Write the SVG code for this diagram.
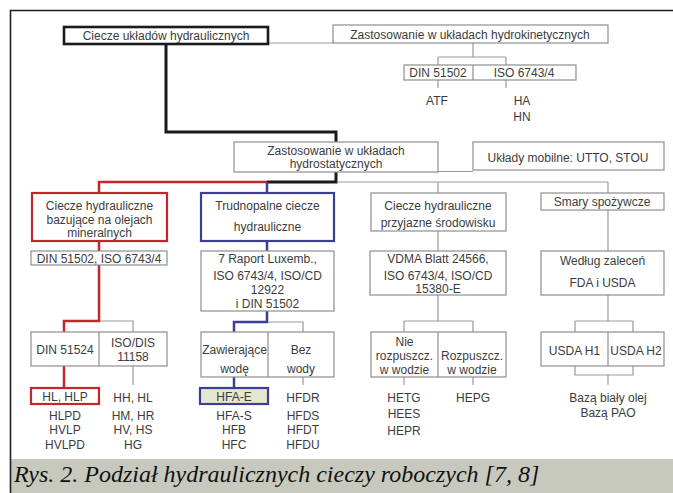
<svg xmlns="http://www.w3.org/2000/svg" width="673" height="493" viewBox="0 0 673 493">
<style>
.b{fill:#fff;stroke:#8e8e8e;stroke-width:1.2}
.t{font-family:"Liberation Sans",Arial,sans-serif;font-size:12px;fill:#3c3c3c;text-anchor:middle}
.c{fill:none;stroke:#999;stroke-width:1.2}
.r{fill:none;stroke:#c1272d;stroke-width:2.5}
.u{fill:none;stroke:#3c3f94;stroke-width:2.5}
.k{fill:none;stroke:#1a1a1a;stroke-width:3}
</style>
<rect x="0" y="0" width="673" height="493" fill="#fff"/>
<rect x="10" y="459" width="663" height="34" fill="#c8c9be"/>
<path d="M10.5 493 V10.5 H673" fill="none" stroke="#1e1e1e" stroke-width="1.6"/>
<text x="14" y="482" font-family="'Liberation Serif','Times New Roman',serif" font-style="italic" font-size="24" fill="#111">Rys. 2. Podział hydraulicznych cieczy roboczych [7, 8]</text>

<g id="connectors">
<path class="c" d="M268 43 H333"/>
<path class="c" d="M473 43 V57 M438 57 H506 M438 57 V65 M506 57 V65"/>
<path class="c" d="M438 80 V88 M506 80 V88"/>
<path class="k" d="M166 44 V132 H336 V142"/>
<path class="k" d="M336 172 V182 H267"/>
<path class="r" d="M267 182 H99 V193"/>
<path class="u" d="M267 182 V193"/>
<path class="c" d="M337 182 H608 M438 182 V193 M608 182 V193"/>
<path class="c" d="M438 171.5 H473"/>
<path class="r" d="M99 241 V251"/>
<path class="u" d="M267 241 V251"/>
<path class="c" d="M438 231 V251 M608 210 V251"/>
<path class="c" d="M99 321 H133 V332"/>
<path class="r" d="M99 265 V321 H64 V332"/>
<path class="c" d="M267 322 H303 V332"/>
<path class="u" d="M267 311 V322 H234 V332"/>
<path class="c" d="M438 295 V321 M404 321 H473 M404 321 V332 M473 321 V332"/>
<path class="c" d="M608 295 V321 M575 321 H633 M575 321 V332 M633 321 V332"/>
<path class="r" d="M64 366 V388"/>
<path class="c" d="M133 366 V385"/>
<path class="u" d="M234 377 V388"/>
<path class="c" d="M303 377 V385"/>
<path class="c" d="M404 377 V385 M473 377 V385"/>
<path class="c" d="M575 366 V375 H633 V366 M608 375 V385"/>
</g>

<g id="n-ciecze">
<rect x="64" y="27" width="204" height="17" fill="#fff" stroke="#1a1a1a" stroke-width="2.6"/>
<text class="t" x="166" y="40">Ciecze układów hydraulicznych</text>
</g>
<g id="n-hydrokin">
<rect class="b" x="333" y="25" width="275" height="18"/>
<text class="t" x="470" y="38.5">Zastosowanie w układach hydrokinetycznych</text>
</g>
<g id="n-din51502-top">
<rect class="b" x="404" y="65" width="172" height="15"/>
<line x1="473" y1="65" x2="473" y2="80" stroke="#8e8e8e" stroke-width="1.2"/>
<text class="t" x="438" y="77">DIN 51502</text>
<text class="t" x="524" y="77">ISO 6743/4</text>
</g>
<g id="n-atf"><text class="t" x="437" y="104.5">ATF</text></g>
<g id="n-ha"><text class="t" x="522" y="104.5">HA</text><text class="t" x="522" y="120.5">HN</text></g>

<g id="n-hydrostat">
<rect class="b" x="234" y="142" width="204" height="30"/>
<text class="t" x="336" y="154.5">Zastosowanie w układach</text>
<text class="t" x="336" y="168">hydrostatycznych</text>
</g>
<g id="n-mobile">
<rect class="b" x="473" y="142" width="191" height="28"/>
<text class="t" x="568" y="161.5">Układy mobilne: UTTO, STOU</text>
</g>

<g id="n-mineral">
<rect x="32" y="193" width="135" height="48" fill="#fff" stroke="#c1272d" stroke-width="2.2"/>
<text class="t" x="99.5" y="209.5">Ciecze hydrauliczne</text>
<text class="t" x="99.5" y="223.5">bazujące na olejach</text>
<text class="t" x="99.5" y="236.5">mineralnych</text>
</g>
<g id="n-trudno">
<rect x="201" y="193" width="133" height="48" fill="#fff" stroke="#3c3f94" stroke-width="2.2"/>
<text class="t" x="267.5" y="209.5">Trudnopalne ciecze</text>
<text class="t" x="267.5" y="231">hydrauliczne</text>
</g>
<g id="n-przyjazne">
<rect class="b" x="371" y="193" width="135" height="38"/>
<text class="t" x="438" y="209.5">Ciecze hydrauliczne</text>
<text class="t" x="438" y="227">przyjazne środowisku</text>
</g>
<g id="n-smary">
<rect class="b" x="541" y="193" width="123" height="17"/>
<text class="t" x="602" y="206">Smary spożywcze</text>
</g>

<g id="n-din-iso">
<rect class="b" x="31" y="251" width="136" height="14"/>
<text class="t" x="99" y="262.5">DIN 51502, ISO 6743/4</text>
</g>
<g id="n-raport">
<rect class="b" x="201" y="251" width="133" height="60"/>
<text class="t" x="267.5" y="262.5">7 Raport Luxemb.,</text>
<text class="t" x="267.5" y="279.5">ISO 6743/4, ISO/CD</text>
<text class="t" x="267.5" y="293.5">12922</text>
<text class="t" x="267.5" y="307.5">i DIN 51502</text>
</g>
<g id="n-vdma">
<rect class="b" x="370" y="251" width="136" height="44"/>
<text class="t" x="438" y="262.5">VDMA Blatt 24566,</text>
<text class="t" x="438" y="279.5">ISO 6743/4, ISO/CD</text>
<text class="t" x="438" y="292.5">15380-E</text>
</g>
<g id="n-fda">
<rect class="b" x="541" y="251" width="123" height="44"/>
<text class="t" x="602.5" y="264.5">Według zaleceń</text>
<text class="t" x="602.5" y="286.5">FDA i USDA</text>
</g>

<g id="n-din51524">
<rect class="b" x="31" y="332" width="136" height="34"/>
<line x1="99" y1="332" x2="99" y2="366" stroke="#8e8e8e" stroke-width="1.2"/>
<text class="t" x="65" y="353.5">DIN 51524</text>
<text class="t" x="133" y="346.5">ISO/DIS</text>
<text class="t" x="133" y="360.5">11158</text>
</g>
<g id="n-woda">
<rect class="b" x="201" y="332" width="133" height="45"/>
<line x1="268" y1="332" x2="268" y2="377" stroke="#8e8e8e" stroke-width="1.2"/>
<text class="t" x="234.5" y="353.5">Zawierające</text>
<text class="t" x="234.5" y="372.5">wodę</text>
<text class="t" x="301" y="353.5">Bez</text>
<text class="t" x="301" y="372.5">wody</text>
</g>
<g id="n-rozp">
<rect class="b" x="371" y="332" width="135" height="45"/>
<line x1="438" y1="332" x2="438" y2="377" stroke="#8e8e8e" stroke-width="1.2"/>
<text class="t" x="404.5" y="345.5">Nie</text>
<text class="t" x="404.5" y="360">rozpuszcz.</text>
<text class="t" x="404.5" y="373.5">w wodzie</text>
<text class="t" x="472" y="360">Rozpuszcz.</text>
<text class="t" x="472" y="373.5">w wodzie</text>
</g>
<g id="n-usda">
<rect class="b" x="541" y="332" width="123" height="34"/>
<line x1="608" y1="332" x2="608" y2="366" stroke="#8e8e8e" stroke-width="1.2"/>
<text class="t" x="574.5" y="354.5">USDA H1</text>
<text class="t" x="636" y="354.5">USDA H2</text>
</g>

<g id="n-hl">
<rect x="31" y="388" width="68" height="16" fill="#fff" stroke="#c1272d" stroke-width="2.2"/>
<text class="t" x="65" y="400.5">HL, HLP</text>
<text class="t" x="65" y="419.5">HLPD</text>
<text class="t" x="65" y="433.5">HVLP</text>
<text class="t" x="65" y="448.5">HVLPD</text>
</g>
<g id="n-hh">
<text class="t" x="133" y="401.5">HH, HL</text>
<text class="t" x="133" y="419.5">HM, HR</text>
<text class="t" x="133" y="433.5">HV, HS</text>
<text class="t" x="133" y="448.5">HG</text>
</g>
<g id="n-hfa">
<rect x="200" y="388" width="68" height="16" fill="#e5e7d1" stroke="#3c3f94" stroke-width="2.2"/>
<text class="t" x="234" y="400.5">HFA-E</text>
<text class="t" x="234" y="419.5">HFA-S</text>
<text class="t" x="234" y="433.5">HFB</text>
<text class="t" x="234" y="448.5">HFC</text>
</g>
<g id="n-hfd">
<text class="t" x="303" y="401.5">HFDR</text>
<text class="t" x="303" y="419.5">HFDS</text>
<text class="t" x="303" y="433.5">HFDT</text>
<text class="t" x="303" y="448.5">HFDU</text>
</g>
<g id="n-he">
<text class="t" x="404" y="401.5">HETG</text>
<text class="t" x="404" y="417.5">HEES</text>
<text class="t" x="404" y="434.5">HEPR</text>
</g>
<g id="n-hepg"><text class="t" x="473" y="401.5">HEPG</text></g>
<g id="n-baza">
<text class="t" x="608" y="401.5">Bazą biały olej</text>
<text class="t" x="608" y="416.5">Bazą PAO</text>
</g>
</svg>
